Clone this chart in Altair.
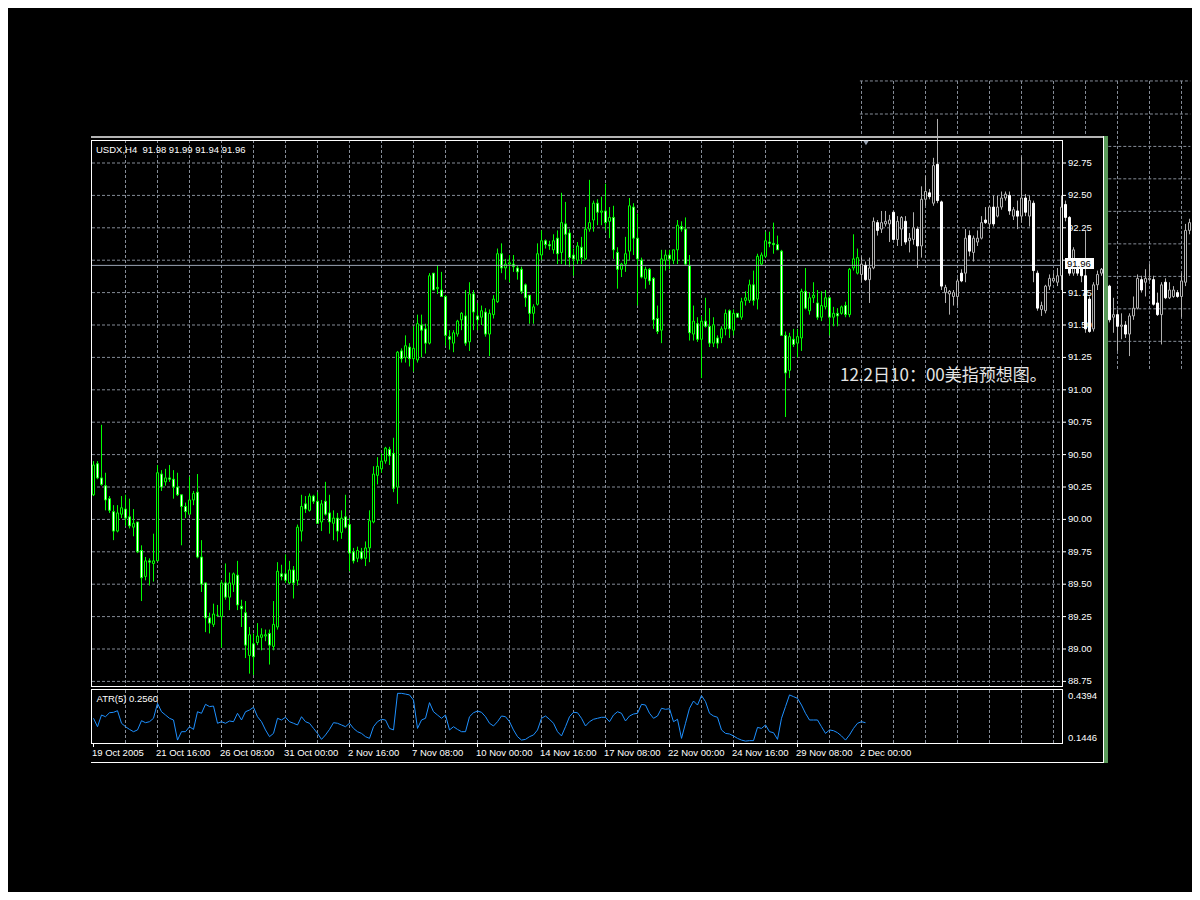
import altair as alt
import pandas as pd

# ---------------- data ----------------
opens = [
90.19, 90.43, 90.32, 90.26, 90.16, 90.06, 89.91, 90.04, 90.08, 90.02,
89.94, 89.98, 89.76, 89.56, 89.68, 89.66, 89.68, 90.35, 90.29, 90.32,
90.31, 90.25, 90.19, 90.10, 90.04, 90.15, 90.21, 89.71, 89.51, 89.24,
89.19, 89.26, 89.25, 89.51, 89.40, 89.50, 89.57, 89.33, 89.28, 88.95,
89.04, 89.05, 89.09, 89.10, 89.12, 89.02, 89.17, 89.58, 89.58, 89.51,
89.61, 89.53, 89.91, 90.12, 90.07, 90.18, 90.14, 89.98, 90.14, 90.05,
89.97, 90.01, 89.90, 90.02, 89.96, 89.75, 89.70, 89.75, 89.70, 89.78,
89.98, 90.34, 90.39, 90.45, 90.54, 90.51, 90.25, 91.30, 91.25, 91.33,
91.24, 91.23, 91.50, 91.47, 91.36, 91.90, 91.78, 91.77, 91.72, 91.41,
91.36, 91.43, 91.54, 91.57, 91.37, 91.74, 91.57, 91.56, 91.60, 91.43,
91.58, 91.68, 92.05, 91.94, 91.97, 91.97, 91.94, 91.93, 91.81, 91.73,
91.59, 91.66, 92.04, 92.15, 92.12, 92.08, 92.17, 92.06, 92.28, 92.21,
92.04, 92.00, 92.10, 92.01, 92.24, 92.31, 92.44, 92.37, 92.38, 92.30,
92.33, 92.06, 91.93, 91.97, 92.07, 92.41, 92.17, 92.00, 91.86, 91.93,
91.86, 91.55, 91.46, 92.00, 92.04, 92.00, 92.08, 92.26, 92.24, 91.96,
91.43, 91.51, 91.39, 91.53, 91.49, 91.36, 91.40, 91.40, 91.47, 91.61,
91.46, 91.59, 91.56, 91.69, 91.69, 91.81, 91.70, 91.97, 92.03, 92.14,
92.13, 92.12, 92.07, 91.42, 91.15, 91.39, 91.36, 91.40, 91.76, 91.61,
91.71, 91.67, 91.56, 91.64, 91.71, 91.56, 91.59, 91.59, 91.65, 91.58,
91.94, 91.90]
highs = [
90.45, 90.45, 90.73, 90.36, 90.18, 90.11, 90.11, 90.18, 90.19, 90.16,
90.08, 89.98, 89.80, 89.71, 89.70, 89.89, 90.42, 90.38, 90.39, 90.42,
90.38, 90.36, 90.19, 90.13, 90.33, 90.22, 90.35, 89.84, 89.51, 89.28,
89.35, 89.34, 89.53, 89.66, 89.59, 89.59, 89.68, 89.38, 89.37, 89.17,
89.12, 89.20, 89.16, 89.15, 89.15, 89.37, 89.67, 89.65, 89.73, 89.68,
89.64, 89.96, 90.19, 90.18, 90.20, 90.19, 90.21, 90.15, 90.29, 90.19,
90.07, 90.05, 90.07, 90.19, 90.01, 89.78, 89.79, 89.78, 89.83, 90.07,
90.41, 90.48, 90.51, 90.56, 90.56, 90.63, 91.30, 91.32, 91.42, 91.36,
91.49, 91.58, 91.58, 91.51, 91.90, 91.90, 91.96, 91.91, 91.73, 91.46,
91.46, 91.54, 91.60, 91.77, 91.83, 91.77, 91.67, 91.65, 91.63, 91.62,
91.73, 92.09, 92.13, 92.01, 92.04, 92.04, 91.96, 91.95, 91.82, 91.73,
91.66, 92.13, 92.23, 92.16, 92.15, 92.20, 92.23, 92.52, 92.45, 92.24,
92.09, 92.14, 92.18, 92.41, 92.62, 92.46, 92.47, 92.49, 92.59, 92.41,
92.42, 92.10, 91.98, 92.18, 92.48, 92.44, 92.36, 92.02, 91.95, 91.94,
91.87, 91.65, 92.08, 92.08, 92.08, 92.08, 92.31, 92.30, 92.33, 92.04,
91.65, 91.56, 91.57, 91.71, 91.63, 91.56, 91.42, 91.49, 91.62, 91.62,
91.62, 91.59, 91.71, 91.76, 91.85, 91.92, 92.05, 92.06, 92.22, 92.22,
92.29, 92.19, 92.08, 91.45, 91.44, 91.47, 91.47, 91.78, 91.94, 91.75,
91.83, 91.77, 91.76, 91.77, 91.72, 91.64, 91.63, 91.65, 91.68, 91.94,
92.20, 92.09]
lows = [
90.18, 90.31, 90.26, 90.07, 90.05, 89.84, 89.90, 90.01, 89.95, 89.93,
89.87, 89.74, 89.37, 89.53, 89.49, 89.52, 89.68, 90.22, 90.26, 90.29,
90.16, 90.18, 89.80, 90.01, 90.04, 90.11, 89.70, 89.44, 89.13, 89.12,
89.17, 89.25, 89.01, 89.38, 89.30, 89.44, 89.30, 89.17, 88.93, 88.81,
88.80, 89.03, 88.99, 89.06, 88.88, 88.99, 89.15, 89.53, 89.51, 89.50,
89.39, 89.49, 89.83, 90.05, 90.06, 90.12, 89.97, 89.91, 90.03, 89.89,
89.84, 89.83, 89.85, 89.93, 89.60, 89.66, 89.67, 89.69, 89.64, 89.67,
89.97, 90.27, 90.36, 90.43, 90.42, 90.21, 90.12, 91.21, 91.21, 91.18,
91.14, 91.21, 91.25, 91.28, 91.35, 91.77, 91.74, 91.72, 91.34, 91.31,
91.29, 91.41, 91.46, 91.34, 91.30, 91.46, 91.46, 91.50, 91.41, 91.26,
91.55, 91.67, 91.90, 91.85, 91.83, 91.91, 91.85, 91.74, 91.64, 91.51,
91.51, 91.65, 92.00, 92.09, 92.08, 92.05, 91.97, 91.97, 91.96, 91.95,
91.88, 91.97, 91.97, 92.00, 92.22, 92.22, 92.27, 92.27, 92.23, 92.17,
92.01, 91.78, 91.87, 91.91, 92.00, 92.04, 91.65, 91.86, 91.78, 91.81,
91.47, 91.43, 91.36, 91.92, 91.93, 91.97, 91.97, 92.22, 91.96, 91.38,
91.38, 91.37, 91.09, 91.48, 91.33, 91.33, 91.32, 91.36, 91.42, 91.40,
91.42, 91.56, 91.54, 91.65, 91.67, 91.65, 91.62, 91.96, 92.02, 92.10,
92.05, 92.08, 91.42, 90.79, 91.09, 91.33, 91.25, 91.30, 91.62, 91.58,
91.67, 91.54, 91.53, 91.62, 91.42, 91.49, 91.49, 91.58, 91.56, 91.56,
91.92, 91.89]
closes = [
90.42, 90.32, 90.27, 90.15, 90.07, 89.91, 90.05, 90.09, 90.01, 89.95,
89.97, 89.75, 89.55, 89.68, 89.67, 89.68, 90.36, 90.25, 90.32, 90.31,
90.25, 90.19, 90.10, 90.06, 90.15, 90.20, 89.71, 89.50, 89.24, 89.20,
89.27, 89.26, 89.51, 89.40, 89.51, 89.58, 89.34, 89.31, 89.03, 89.11,
88.94, 89.10, 89.11, 89.11, 89.03, 89.19, 89.60, 89.56, 89.53, 89.61,
89.51, 89.94, 90.10, 90.08, 90.18, 90.14, 89.97, 90.12, 90.04, 89.98,
90.01, 89.91, 90.01, 89.94, 89.74, 89.68, 89.76, 89.70, 89.78, 89.99,
90.35, 90.41, 90.45, 90.55, 90.49, 90.24, 91.29, 91.24, 91.34, 91.24,
91.32, 91.51, 91.46, 91.36, 91.88, 91.77, 91.79, 91.72, 91.42, 91.39,
91.44, 91.53, 91.59, 91.36, 91.74, 91.60, 91.54, 91.61, 91.43, 91.59,
91.70, 92.05, 91.94, 91.97, 91.98, 91.95, 91.91, 91.76, 91.71, 91.59,
91.64, 92.05, 92.15, 92.12, 92.11, 92.15, 92.05, 92.29, 92.20, 92.02,
92.01, 92.11, 92.02, 92.24, 92.29, 92.44, 92.37, 92.38, 92.29, 92.33,
92.08, 91.93, 91.97, 92.05, 92.42, 92.17, 92.01, 91.87, 91.93, 91.84,
91.54, 91.45, 92.01, 92.04, 92.01, 92.08, 92.27, 92.24, 91.97, 91.44,
91.53, 91.39, 91.53, 91.49, 91.36, 91.50, 91.36, 91.47, 91.59, 91.47,
91.59, 91.56, 91.68, 91.71, 91.81, 91.69, 92.03, 92.04, 92.15, 92.13,
92.12, 92.08, 91.42, 91.13, 91.41, 91.35, 91.41, 91.76, 91.63, 91.71,
91.73, 91.56, 91.65, 91.71, 91.56, 91.59, 91.57, 91.64, 91.58, 91.93,
92.01, 92.02]

# projected (white/grey) candles pasted on the right, starting at bar 192
proj_start = 192
proj_open = [
91.89, 91.96, 91.85, 91.94, 92.29, 92.24, 92.28, 92.28, 92.37, 92.16,
92.24, 92.30, 92.15, 92.16, 92.24, 92.11, 92.47, 92.52, 92.44, 92.74,
92.45, 91.75, 91.74, 91.72, 91.72, 91.90, 91.90, 92.19, 92.06, 92.14,
92.17, 92.31, 92.28, 92.41, 92.34, 92.41, 92.48, 92.50, 92.34, 92.38,
92.34, 92.48, 92.34, 92.44, 91.90, 91.62, 91.61, 91.80, 91.84, 91.83,
91.88, 92.43, 92.33, 91.90, 91.96, 91.94, 91.88, 91.70, 91.47, 91.81,
91.90, 91.93, 91.80, 91.56, 91.58, 91.49, 91.50, 91.43, 91.57, 91.63,
91.85, 91.83, 91.85, 91.85, 91.67, 91.58, 91.83, 91.71, 91.72, 91.75,
91.72, 91.83, 92.23]
proj_high = [
92.03, 91.99, 92.02, 92.33, 92.31, 92.38, 92.38, 92.35, 92.38, 92.34,
92.34, 92.34, 92.21, 92.37, 92.26, 92.57, 92.65, 92.55, 92.79, 93.09,
92.46, 91.81, 91.77, 91.77, 91.86, 91.93, 92.24, 92.23, 92.19, 92.23,
92.34, 92.41, 92.42, 92.50, 92.50, 92.53, 92.53, 92.53, 92.41, 92.46,
92.80, 92.51, 92.50, 92.46, 91.92, 91.68, 91.81, 91.89, 91.90, 91.94,
92.50, 92.46, 92.34, 92.10, 91.98, 91.98, 92.23, 91.72, 91.83, 91.92,
91.94, 91.96, 91.81, 91.71, 91.62, 91.59, 91.53, 91.59, 91.72, 91.89,
91.88, 91.93, 91.97, 91.88, 91.75, 91.83, 91.86, 91.83, 91.80, 91.77,
91.90, 92.28, 92.32]
proj_low = [
91.83, 91.84, 91.67, 91.93, 92.19, 92.21, 92.26, 92.14, 92.16, 92.11,
92.11, 92.12, 92.06, 92.12, 91.94, 92.02, 92.42, 92.47, 92.42, 92.44,
91.77, 91.67, 91.58, 91.65, 91.65, 91.83, 91.83, 92.03, 91.99, 92.11,
92.16, 92.28, 92.24, 92.26, 92.33, 92.39, 92.46, 92.35, 92.31, 92.24,
92.29, 92.34, 92.26, 91.83, 91.61, 91.57, 91.59, 91.77, 91.83, 91.80,
91.77, 92.30, 91.88, 91.88, 91.88, 91.83, 91.44, 91.44, 91.45, 91.77,
91.88, 91.80, 91.52, 91.44, 91.30, 91.39, 91.40, 91.26, 91.54, 91.62,
91.75, 91.72, 91.84, 91.65, 91.57, 91.35, 91.70, 91.70, 91.71, 91.71,
91.56, 91.80, 92.20]
proj_close = [
91.97, 91.85, 91.94, 92.30, 92.23, 92.29, 92.30, 92.31, 92.16, 92.30,
92.33, 92.14, 92.17, 92.25, 92.11, 92.47, 92.53, 92.49, 92.73, 92.46,
91.80, 91.79, 91.76, 91.75, 91.84, 91.84, 92.17, 92.07, 92.17, 92.17,
92.29, 92.29, 92.41, 92.28, 92.41, 92.48, 92.51, 92.38, 92.39, 92.34,
92.48, 92.37, 92.46, 91.92, 91.63, 91.65, 91.80, 91.86, 91.86, 91.88,
92.41, 92.33, 91.90, 92.08, 91.90, 91.88, 91.47, 91.45, 91.81, 91.89,
91.93, 91.81, 91.54, 91.58, 91.49, 91.50, 91.43, 91.57, 91.63, 91.86,
91.77, 91.86, 91.86, 91.66, 91.58, 91.81, 91.71, 91.77, 91.77, 91.72,
91.84, 92.23, 92.29]

atr_values = [
0.283, 0.224, 0.306, 0.294, 0.322, 0.325, 0.336, 0.248, 0.224, 0.205,
0.189, 0.201, 0.266, 0.252, 0.259, 0.283, 0.388, 0.329, 0.306, 0.283,
0.271, 0.130, 0.189, 0.189, 0.224, 0.205, 0.329, 0.318, 0.381, 0.365,
0.369, 0.248, 0.259, 0.248, 0.264, 0.259, 0.318, 0.271, 0.329, 0.341,
0.360, 0.294, 0.259, 0.201, 0.154, 0.177, 0.283, 0.271, 0.290, 0.259,
0.248, 0.236, 0.294, 0.259, 0.248, 0.212, 0.177, 0.135, 0.166, 0.205,
0.252, 0.248, 0.236, 0.224, 0.248, 0.212, 0.189, 0.177, 0.154, 0.142,
0.224, 0.259, 0.276, 0.271, 0.212, 0.201, 0.458, 0.458, 0.453, 0.447,
0.411, 0.212, 0.271, 0.283, 0.393, 0.329, 0.306, 0.283, 0.306, 0.201,
0.224, 0.205, 0.189, 0.189, 0.294, 0.322, 0.334, 0.325, 0.294, 0.248,
0.229, 0.259, 0.299, 0.294, 0.259, 0.201, 0.154, 0.130, 0.135, 0.154,
0.166, 0.201, 0.283, 0.299, 0.276, 0.248, 0.189, 0.159, 0.224, 0.294,
0.325, 0.322, 0.283, 0.229, 0.259, 0.276, 0.283, 0.290, 0.290, 0.259,
0.306, 0.329, 0.318, 0.264, 0.299, 0.313, 0.318, 0.381, 0.376, 0.318,
0.283, 0.299, 0.353, 0.346, 0.350, 0.259, 0.276, 0.142, 0.248, 0.353,
0.404, 0.376, 0.442, 0.400, 0.318, 0.299, 0.290, 0.201, 0.177, 0.173,
0.159, 0.142, 0.130, 0.123, 0.126, 0.126, 0.219, 0.212, 0.236, 0.189,
0.182, 0.135, 0.283, 0.365, 0.447, 0.435, 0.423, 0.376, 0.318, 0.271,
0.271, 0.271, 0.224, 0.177, 0.201, 0.196, 0.182, 0.159, 0.130, 0.166,
0.212, 0.248, 0.259, 0.252]

date_labels = ["19 Oct 2005", "21 Oct 16:00", "26 Oct 08:00", "31 Oct 00:00",
               "2 Nov 16:00", "7 Nov 08:00", "10 Nov 00:00", "14 Nov 16:00",
               "17 Nov 08:00", "22 Nov 00:00", "24 Nov 16:00", "29 Nov 08:00",
               "2 Dec 00:00"]
label_bars = [0, 16, 32, 48, 64, 80, 96, 112, 128, 144, 160, 176, 192]
grid_bars = [8, 16, 24, 32, 40, 48, 56, 64, 72, 80, 88, 96, 104, 112, 120, 128,
             136, 144, 152, 160, 168, 176, 184, 192, 200, 208, 216, 224, 232, 240]
price_ticks = [88.75, 89.00, 89.25, 89.50, 89.75, 90.00, 90.25, 90.50, 90.75,
               91.00, 91.25, 91.50, 91.75, 92.00, 92.25, 92.50, 92.75]
price_labels = ["88.75", "89.00", "89.25", "89.50", "89.75", "90.00", "90.25",
                "90.50", "90.75", "91.00", "91.25", "91.50", "91.75", "",
                "92.25", "92.50", "92.75"]
atr_marks = [0.4394, 0.1446]
atr_mark_text = ["0.4394", "0.1446"]
bid_price = 91.96
title_text = "USDX,H4\u00a0\u00a091.98 91.99 91.94 91.96"
atr_title = "ATR(5) 0.2560"
note_text = "12.2日10：00美指预想图。"

# projected-chart grid (pasted picture)
proj_hgrid = [93.383, 93.128]
proj_vgrid_top = [192, 200, 208, 216, 224, 232, 240, 248]
proj_vgrid_right = [256, 264, 272]
proj_hgrid_right = [92.878, 92.628, 92.377, 92.126, 91.875, 91.625, 91.374]

# ---------------- styling / geometry ----------------
W, H = 970, 605
GRID = "#858c97"
LIME = "#00ff00"
FONT = "Liberation Sans"
FS = 9.5

xs = alt.Scale(domain=[-0.375, 242.125], nice=False, zero=False, padding=0)
ps = alt.Scale(domain=[88.2670, 92.9352], nice=False, zero=False, padding=0)
ats = alt.Scale(domain=[0.1025, 4.349], nice=False, zero=False, padding=0)

main_df = pd.DataFrame({"bar": list(range(len(opens))), "open": opens,
                        "high": highs, "low": lows, "close": closes})
proj_df = pd.DataFrame({"bar": list(range(proj_start, proj_start + len(proj_open))),
                        "open": proj_open, "high": proj_high,
                        "low": proj_low, "close": proj_close})
atr_df = pd.DataFrame({"bar": list(range(len(atr_values))), "atr": atr_values})
grid_df = pd.DataFrame({"bar": grid_bars})
ptick_df = pd.DataFrame({"p": price_ticks, "t": price_labels})
dtick_df = pd.DataFrame({"bar": label_bars, "t": date_labels})

Xn = alt.X("bar:Q", scale=xs, axis=None)


def deco():
    return alt.Chart(alt.Data(values=[{}]))


def hline(y, x1, x2, color, w=1):
    return deco().mark_rule(color=color, strokeWidth=w).encode(
        x=alt.value(x1), x2=alt.value(x2), y=alt.value(y))


def vline(x, y1, y2, color, w=1):
    return deco().mark_rule(color=color, strokeWidth=w).encode(
        x=alt.value(x), y=alt.value(y1), y2=alt.value(y2))


# grids
hgrid = alt.Chart(ptick_df).mark_rule(color=GRID, strokeDash=[3, 2]).encode(
    y=alt.Y("p:Q", scale=ps, axis=None), x=alt.value(0), x2=alt.value(W))
vgrid_main = alt.Chart(grid_df).mark_rule(color=GRID, strokeDash=[3, 2]).encode(
    x=Xn, y=alt.value(1), y2=alt.value(547))
vgrid_atr = alt.Chart(grid_df).mark_rule(color=GRID, strokeDash=[3, 2]).encode(
    x=Xn, y=alt.value(551), y2=alt.value(604))

# price scale ticks + labels (right side)
ptick = alt.Chart(ptick_df).mark_rule(color="white").encode(
    y=alt.Y("p:Q", scale=ps, axis=None), x=alt.value(W), x2=alt.value(W + 4))
plabel = alt.Chart(ptick_df).mark_text(
    color="white", font=FONT, fontSize=FS, align="left", baseline="middle").encode(
    y=alt.Y("p:Q", scale=ps, axis=None), x=alt.value(W + 6), text="t:N")

# time ticks + labels (bottom)
dtick = alt.Chart(dtick_df).mark_rule(color="white").encode(
    x=Xn, y=alt.value(H), y2=alt.value(H + 3))
dlabel = alt.Chart(dtick_df).mark_text(
    color="white", font=FONT, fontSize=FS, align="left", baseline="top", dx=-1.5).encode(
    x=Xn, y=alt.value(H + 4), text="t:N")

# projected picture's grid
pg_h = alt.Chart(pd.DataFrame({"p": proj_hgrid, "b0": 191.6, "b1": 274.2})).mark_rule(
    color=GRID, strokeDash=[3, 2]).encode(
    x=alt.X("b0:Q", scale=xs, axis=None), x2="b1:Q",
    y=alt.Y("p:Q", scale=ps, axis=None))
pg_v_top = alt.Chart(pd.DataFrame({"bar": proj_vgrid_top, "p0": 93.383, "p1": 92.95})).mark_rule(
    color=GRID, strokeDash=[3, 2]).encode(
    x=Xn, y=alt.Y("p0:Q", scale=ps, axis=None), y2="p1:Q")
pg_v_right = alt.Chart(pd.DataFrame({"bar": proj_vgrid_right, "p0": 93.383, "p1": 91.15})).mark_rule(
    color=GRID, strokeDash=[3, 2]).encode(
    x=Xn, y=alt.Y("p0:Q", scale=ps, axis=None), y2="p1:Q")
pg_h_right = alt.Chart(pd.DataFrame({"p": proj_hgrid_right, "b0": 253.7, "b1": 274.2})).mark_rule(
    color=GRID, strokeDash=[3, 2]).encode(
    x=alt.X("b0:Q", scale=xs, axis=None), x2="b1:Q",
    y=alt.Y("p:Q", scale=ps, axis=None))

# main candles
wicks = alt.Chart(main_df).mark_rule(color=LIME, strokeWidth=1).encode(
    x=Xn, y=alt.Y("low:Q", scale=ps, axis=None), y2="high:Q")
bodies = alt.Chart(main_df).mark_bar(size=2, stroke=LIME, strokeWidth=1, opacity=1).encode(
    x=Xn, y=alt.Y("open:Q", scale=ps, axis=None), y2="close:Q",
    fill=alt.condition("datum.close < datum.open", alt.value("white"), alt.value("black")))

# bid line
bid = alt.Chart(pd.DataFrame({"p": [bid_price]})).mark_rule(color="#9aa4b4").encode(
    y=alt.Y("p:Q", scale=ps, axis=None), x=alt.value(0), x2=alt.value(W))

# projected candles
pwicks = alt.Chart(proj_df).mark_rule(color="#b0b0b0", strokeWidth=1).encode(
    x=Xn, y=alt.Y("low:Q", scale=ps, axis=None), y2="high:Q")
pbodies = alt.Chart(proj_df).mark_bar(size=2, strokeWidth=1, opacity=1).encode(
    x=Xn, y=alt.Y("open:Q", scale=ps, axis=None), y2="close:Q",
    fill=alt.condition("datum.close < datum.open", alt.value("white"), alt.value("black")),
    stroke=alt.condition("datum.close < datum.open", alt.value("white"), alt.value("#b0b0b0")))

# frames
frames = [
    hline(1.5, -0.5, 970.5, "white"), hline(547.5, -0.5, 970.5, "white"),
    vline(-0.5, 1, 548, "white"), vline(970.5, 1, 548, "white"),
    hline(550.5, -0.5, 970.5, "white"), hline(604.5, -0.5, 970.5, "white"),
    vline(-0.5, 550, 605, "white"), vline(970.5, 550, 605, "white"),
    hline(-2, -1, 1016, "#b4b4b4", 2),
    vline(1011.5, -3, 624, "white"),
    hline(623.5, -1, 1011.5, "white"),
    deco().mark_rect(color="#5a9a5a").encode(
        x=alt.value(1012), x2=alt.value(1016), y=alt.value(-3), y2=alt.value(624)),
]

# bid marker on price axis
bid_box = deco().mark_rect(color="white").encode(
    x=alt.value(973), x2=alt.value(1002), y=alt.value(119), y2=alt.value(130))
bid_txt = alt.Chart(pd.DataFrame({"t": ["%.2f" % bid_price]})).mark_text(
    color="black", font=FONT, fontSize=FS, align="left", baseline="middle").encode(
    text="t:N", x=alt.value(975), y=alt.value(125))
shift_mark = deco().mark_point(shape="triangle-down", filled=True, size=30,
                               color="#9aa4b4", opacity=1).encode(
    x=alt.value(774), y=alt.value(4))

title = alt.Chart(pd.DataFrame({"t": [title_text]})).mark_text(
    color="white", font=FONT, fontSize=FS, align="left", baseline="middle").encode(
    text="t:N", x=alt.value(4), y=alt.value(11))
atr_lbl = alt.Chart(pd.DataFrame({"t": [atr_title]})).mark_text(
    color="white", font=FONT, fontSize=FS, align="left", baseline="middle").encode(
    text="t:N", x=alt.value(4.5), y=alt.value(560))
note = alt.Chart(pd.DataFrame({"t": [note_text]})).mark_text(
    color="#e4e4e4", font="Noto Sans CJK SC", fontSize=17, align="left",
    baseline="middle").encode(text="t:N", x=alt.value(748), y=alt.value(237))

price_group = alt.layer(
    hgrid, vgrid_main, vgrid_atr, pg_h, pg_v_top, pg_v_right, pg_h_right,
    ptick, plabel, dtick, dlabel,
    wicks, bodies, bid, pwicks, pbodies, *frames,
    bid_box, bid_txt, shift_mark, title, atr_lbl, note)

atr_line = alt.Chart(atr_df).mark_line(color="#1e90ff", strokeWidth=1).encode(
    x=Xn, y=alt.Y("atr:Q", scale=ats, axis=None))
atr_ticks = alt.Chart(pd.DataFrame({"v": atr_marks, "t": atr_mark_text})).mark_text(
    color="white", font=FONT, fontSize=FS, align="left", baseline="middle").encode(
    x=alt.value(976), y=alt.Y("v:Q", scale=ats, axis=None), text="t:N")
atr_group = alt.layer(atr_line, atr_ticks)

chart = alt.layer(price_group, atr_group).resolve_scale(y="independent").properties(
    width=W, height=H,
    autosize=alt.AutoSizeParams(type="none"),
    padding={"left": 84, "top": 131, "right": 130, "bottom": 148},
    background="black",
).configure(font=FONT).configure_view(stroke=None)

chart.save("out.html", embed_options={"renderer": "svg", "actions": False})
